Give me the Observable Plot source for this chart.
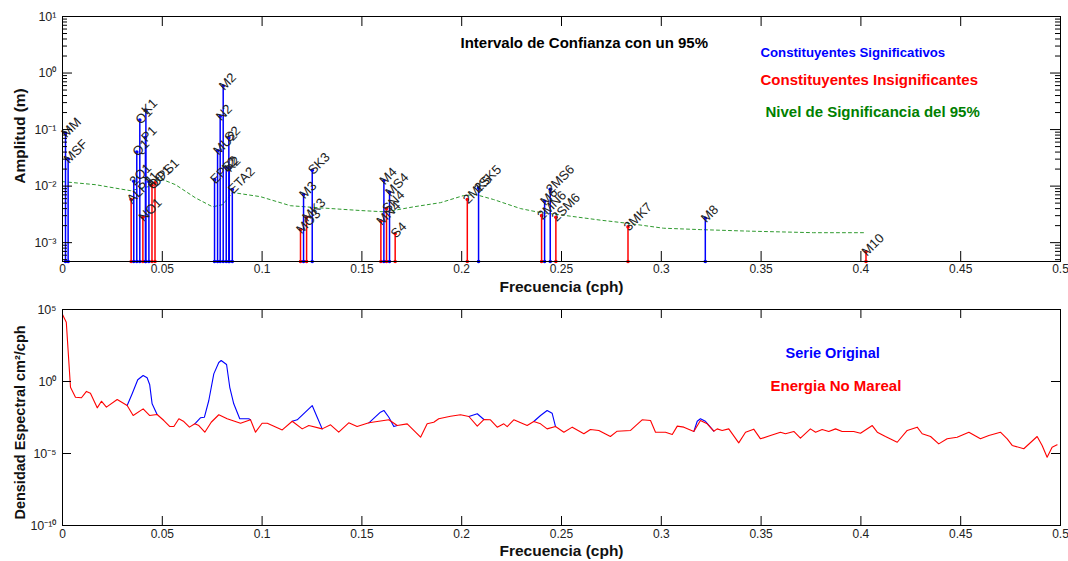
<!DOCTYPE html>
<html><head><meta charset="utf-8">
<script src="https://cdn.jsdelivr.net/npm/d3@7"></script>
<script src="https://cdn.jsdelivr.net/npm/@observablehq/plot@0.6"></script>
<style>
html,body{margin:0;padding:0;background:#fff;}
#chart{width:1068px;height:561px;position:relative;font-family:"Liberation Sans",Arial,sans-serif;}
#chart svg{display:block;background:#fff;}
</style></head><body><div id="chart"></div>
<script>
// ---- Top panel: tidal constituents (name, frequency cph, amplitude m) ----
const sigNames = ["MM","MSF","2Q1","Q1","O1","P1","K1","J1","EPS2","MU2","N2","M2","L2","S2","K2","ETA2","M3","SK3","M4","MS4","2SK5","M6","2MS6","M8"];
const sigFreq  = [0.0015122,0.0028219,0.0357064,0.0372185,0.0387307,0.0415526,0.0417807,0.0432929,0.0761773,0.0776895,0.0789992,0.0805114,0.0820236,0.0833333,0.0835615,0.0850736,0.1207671,0.1251141,0.1610228,0.1638447,0.2084474,0.2415342,0.2443561,0.3220456];
const sigAmp   = [0.086,0.030,0.0122,0.040,0.148,0.072,0.22,0.012,0.013,0.042,0.17,0.59,0.021,0.072,0.021,0.0087,0.0071,0.019,0.0126,0.0078,0.0093,0.0054,0.0088,0.0027];

const insNames = ["ALP1","NO1","OO1","UPS1","MO3","MK3","MN4","SN4","S4","2MK5","2MN6","2SM6","3MK7","M10"];
const insFreq  = [0.0343966,0.0402686,0.0448308,0.0463430,0.1192421,0.1222921,0.1595106,0.1623326,0.1666667,0.2028035,0.2400221,0.2471781,0.2833149,0.4025570];
const insAmp   = [0.0058,0.0028,0.0103,0.0114,0.0017,0.0028,0.0024,0.0040,0.00144,0.0058,0.0030,0.0028,0.0019,0.00069];

// 95% significance level (frequency, amplitude)
const sigLevelFreq = [0,0.0165,0.034,0.0431,0.0491,0.0566,0.0666,0.0752,0.0802,0.0852,0.0992,0.1142,0.1258,0.1493,0.1618,0.1759,0.1894,0.2009,0.2069,0.2159,0.2295,0.2395,0.2495,0.2695,0.2831,0.3011,0.3196,0.3432,0.3762,0.4013];
const sigLevelAmp  = [0.0120,0.0106,0.0083,0.0098,0.0135,0.0106,0.0062,0.0043,0.0047,0.0077,0.0065,0.0045,0.0042,0.0037,0.0035,0.0043,0.0051,0.0068,0.0071,0.0058,0.0040,0.0034,0.0031,0.0025,0.0022,0.0018,0.0017,0.0016,0.0015,0.0015];

const freqTicks = [0,0.05,0.1,0.15,0.2,0.25,0.3,0.35,0.4,0.45,0.5];
const ampTicks = [1e-3,1e-2,1e-1,1,10];
const ampTickLabels = ["10\u207B\u00B3","10\u207B\u00B2","10\u207B\u00B9","10\u2070","10\u00B9"];
const ampDomain = [4.64e-4, 10];

// ---- Bottom panel: spectra [frequency cph, log10 density cm^2/cph] ----
const nonTidalSpectrum = [[0,4.65],[0.0019,4.12],[0.0040,-0.40],[0.0065,-1.09],[0.0095,-1.13],[0.0120,-0.69],[0.0140,-0.81],[0.0174,-1.83],[0.0195,-1.37],[0.0220,-1.78],
[0.0274,-1.25],[0.0324,-1.67],[0.0354,-2.36],[0.0404,-1.90],[0.0436,-2.36],[0.0474,-2.29],[0.0508,-2.71],[0.0538,-3.13],[0.0558,-3.13],[0.0583,-2.59],
[0.0608,-2.78],[0.0636,-3.17],[0.0663,-2.94],[0.0683,-3.06],[0.0713,-3.52],[0.0745,-2.83],[0.0783,-2.31],[0.0825,-2.59],[0.0892,-2.90],[0.0942,-2.66],
[0.0967,-3.52],[0.1000,-2.90],[0.1026,-2.90],[0.1101,-3.36],[0.1151,-2.76],[0.1201,-3.29],[0.1234,-3.06],[0.1301,-3.29],[0.1343,-3.01],[0.1384,-3.52],
[0.1434,-2.87],[0.1476,-3.13],[0.1535,-2.87],[0.1635,-2.66],[0.1677,-3.06],[0.1727,-2.94],[0.1760,-3.40],[0.1794,-3.87],[0.1827,-2.94],[0.1860,-2.83],
[0.1885,-2.59],[0.1944,-2.41],[0.1994,-2.31],[0.2036,-2.43],[0.2078,-3.10],[0.2111,-2.64],[0.2144,-2.66],[0.2178,-3.17],[0.2211,-2.94],[0.2228,-3.13],
[0.2261,-2.66],[0.2328,-3.06],[0.2361,-2.78],[0.2395,-2.94],[0.2428,-3.29],[0.2470,-3.13],[0.2512,-3.52],[0.2554,-3.17],[0.2612,-3.63],[0.2645,-3.33],
[0.2687,-3.40],[0.2745,-3.82],[0.2779,-3.45],[0.2846,-3.40],[0.2904,-2.66],[0.2946,-2.71],[0.2971,-3.52],[0.3021,-3.52],[0.3055,-3.68],[0.3080,-3.10],
[0.3113,-3.17],[0.3163,-3.47],[0.3196,-2.71],[0.3230,-2.94],[0.3263,-3.45],[0.3280,-3.29],[0.3305,-3.40],[0.3338,-3.29],[0.3388,-4.26],[0.3422,-3.52],
[0.3463,-3.31],[0.3497,-3.98],[0.3547,-3.75],[0.3597,-3.52],[0.3622,-3.63],[0.3664,-3.47],[0.3697,-3.93],[0.3747,-3.29],[0.3773,-3.52],[0.3806,-3.33],
[0.3839,-3.47],[0.3873,-3.29],[0.3906,-3.47],[0.3964,-3.47],[0.3998,-3.59],[0.4057,-3.06],[0.4082,-3.52],[0.4123,-3.82],[0.4182,-4.22],[0.4232,-3.40],
[0.4282,-3.17],[0.4307,-3.63],[0.4349,-3.82],[0.4390,-4.33],[0.4432,-3.98],[0.4482,-3.87],[0.4541,-3.52],[0.4599,-3.98],[0.4641,-3.75],[0.4699,-3.52],
[0.4733,-3.98],[0.4758,-4.44],[0.4816,-4.67],[0.4883,-3.82],[0.4908,-4.44],[0.4933,-5.26],[0.4958,-4.56],[0.4983,-4.40]];

// Original series where it departs from the non-tidal energy: [segment, frequency, log10 density]
const originalPeaks = [
[1,0.0324,-1.67],[1,0.0349,-0.85],[1,0.0377,0.12],[1,0.0404,0.42],[1,0.0424,0.26],[1,0.0437,-0.23],[1,0.0449,-1.55],[1,0.0474,-2.29],
[2,0.0663,-2.94],[2,0.0691,-2.52],[2,0.0711,-2.48],[2,0.0733,-1.32],[2,0.0758,0.53],[2,0.0783,1.32],[2,0.0795,1.46],[2,0.0822,1.18],[2,0.0838,-0.40],[2,0.0858,-1.55],[2,0.0888,-2.59],[2,0.0933,-2.59],[2,0.0942,-2.66],
[3,0.1151,-2.76],[3,0.1176,-2.66],[3,0.1251,-1.67],[3,0.1276,-2.48],[3,0.1301,-3.29],
[4,0.1535,-2.87],[4,0.1593,-2.13],[4,0.1610,-2.01],[4,0.1635,-2.48],[4,0.1660,-3.13],[4,0.1677,-3.06],
[5,0.2036,-2.43],[5,0.2078,-2.24],[5,0.2111,-2.64],
[6,0.2361,-2.78],[6,0.2395,-2.36],[6,0.2428,-2.01],[6,0.2453,-2.20],[6,0.2470,-3.13],
[7,0.3163,-3.47],[7,0.3180,-2.76],[7,0.3196,-2.59],[7,0.3221,-2.76],[7,0.3263,-3.45]];

const densTicks = [1e-10,1e-5,1,1e5];
const densTickLabels = ["10\u207B\u00B9\u2070","10\u207B\u2075","10\u2070","10\u2075"];
const densDomain = [1e-10, 1e5];

// ---------------- build ----------------
(function(){
const FONT = '"Liberation Sans", Arial, sans-serif';
const W = 1068;
const mL = 62, mR = 8;
const plotW = W - mL - mR;

const sigData = sigNames.map((n,i)=>({name:n, f:sigFreq[i], a:sigAmp[i]}));
const insData = insNames.map((n,i)=>({name:n, f:insFreq[i], a:insAmp[i]}));
const levelData = sigLevelFreq.map((f,i)=>({f, a:sigLevelAmp[i]}));

function minorLogTicks(lo, hi){
  const out=[];
  for(let e=Math.floor(Math.log10(lo)); e<=Math.ceil(Math.log10(hi)); e++){
    for(let m=2;m<=9;m++){const v=m*Math.pow(10,e); if(v>=lo && v<=hi) out.push(v);}
  }
  return out;
}

function frameTicks(plotH, yMajor, yMinor, major, minor){
  const marks = [
    Plot.tickX(freqTicks, {x:d=>d, insetTop: plotH - major, stroke:"#000"}),
    Plot.tickX(freqTicks, {x:d=>d, insetBottom: plotH - major, stroke:"#000"}),
    Plot.tickY(yMajor, {y:d=>d, insetRight: plotW - major, stroke:"#000"}),
    Plot.tickY(yMajor, {y:d=>d, insetLeft: plotW - major, stroke:"#000"})
  ];
  if (yMinor) {
    marks.push(Plot.tickY(yMinor, {y:d=>d, insetRight: plotW - minor, stroke:"#000"}));
    marks.push(Plot.tickY(yMinor, {y:d=>d, insetLeft: plotW - minor, stroke:"#000"}));
  }
  return marks;
}

const ampLabelMap = new Map(ampTicks.map((t,i)=>[t, ampTickLabels[i]]));
const densLabelMap = new Map(densTicks.map((t,i)=>[t, densTickLabels[i]]));
const fmtFreq = d => d === 0 ? "0" : String(d);

// Top plot
const topH = 300, topMT = 16, topMB = 39;
const topPlotH = topH - topMT - topMB;
const topChart = Plot.plot({
  width: W, height: topH,
  marginLeft: mL, marginRight: mR, marginTop: topMT, marginBottom: topMB,
  style: {fontFamily: FONT, background:"#fff", overflow:"visible"},
  x: {domain:[0,0.5]},
  y: {type:"log", domain: ampDomain},
  marks: [
    Plot.line(levelData, {x:"f", y:"a", stroke:"#2f9a2f", strokeWidth:1, strokeDasharray:"3,3"}),
    Plot.ruleX(insData, {x:"f", y1:()=>ampDomain[0], y2:"a", stroke:"#ff0000", strokeWidth:1.5}),
    Plot.ruleX(sigData, {x:"f", y1:()=>ampDomain[0], y2:"a", stroke:"#0000ff", strokeWidth:1.5}),
    Plot.dot(insData, {x:"f", y:"a", r:1.8, fill:"#ff0000", stroke:null}),
    Plot.dot(sigData, {x:"f", y:"a", r:1.8, fill:"#0000ff", stroke:null}),
    Plot.dot(insData, {x:"f", y:()=>ampDomain[0], r:1.8, fill:"#ff0000", stroke:null}),
    Plot.dot(sigData, {x:"f", y:()=>ampDomain[0], r:1.8, fill:"#0000ff", stroke:null}),
    Plot.text(sigData.concat(insData), {x:"f", y:"a", text:"name", rotate:-45, textAnchor:"start", lineAnchor:"middle", dx:-2, dy:2, fontSize:13, fill:"#222"}),
    Plot.frame({stroke:"#000"}),
    ...frameTicks(topPlotH, ampTicks, minorLogTicks(ampDomain[0], ampDomain[1]), 10, 5),
    Plot.axisX({ticks: freqTicks, tickSize:0, tickPadding:3, tickFormat: fmtFreq, fontSize:12, label:null, fill:"#222"}),
    Plot.axisY({ticks: ampTicks, tickSize:0, tickPadding:6, tickFormat: d=>ampLabelMap.get(d), fontSize:12.5, label:null, fill:"#222"}),
    Plot.text(["Frecuencia (cph)"], {frameAnchor:"bottom", dy:30, textAnchor:"middle", fontSize:15.5, fontWeight:"bold", fill:"#111"}),
    Plot.text(["Amplitud (m)"], {frameAnchor:"left", dx:-42, dy:-3, rotate:-90, textAnchor:"middle", fontSize:15.5, fontWeight:"bold", fill:"#111"}),
    Plot.text(["Intervalo de Confianza con un 95%"], {frameAnchor:"top-left", dx:398, dy:21, textAnchor:"start", fontSize:15, fontWeight:"bold", fill:"#000"}),
    Plot.text(["Constituyentes Significativos"], {frameAnchor:"top-left", dx:698, dy:31, textAnchor:"start", fontSize:13.2, fontWeight:"bold", fill:"#0000ff"}),
    Plot.text(["Constituyentes Insignificantes"], {frameAnchor:"top-left", dx:698, dy:58, textAnchor:"start", fontSize:15, fontWeight:"bold", fill:"#ff0000"}),
    Plot.text(["Nivel de Significancia del 95%"], {frameAnchor:"top-left", dx:703, dy:90, textAnchor:"start", fontSize:15, fontWeight:"bold", fill:"#008000"})
  ]
});

// Bottom plot
const botH = 261, botMT = 9, botMB = 36;
const botPlotH = botH - botMT - botMB;
const redData = nonTidalSpectrum.map(([f,v])=>({f, d:Math.pow(10,v)}));
const blueData = originalPeaks.map(([s,f,v])=>({s, f, d:Math.pow(10,v)}));
const bottomChart = Plot.plot({
  width: W, height: botH,
  marginLeft: mL, marginRight: mR, marginTop: botMT, marginBottom: botMB,
  style: {fontFamily: FONT, background:"#fff", overflow:"visible"},
  x: {domain:[0,0.5]},
  y: {type:"log", domain: densDomain},
  marks: [
    Plot.line(blueData, {x:"f", y:"d", z:"s", stroke:"#0000ff", strokeWidth:1.1}),
    Plot.line(redData, {x:"f", y:"d", stroke:"#ff0000", strokeWidth:1.1}),
    Plot.frame({stroke:"#000"}),
    ...frameTicks(botPlotH, densTicks, null, 9, 0),
    Plot.axisX({ticks: freqTicks, tickSize:0, tickPadding:4, tickFormat: fmtFreq, fontSize:12, label:null, fill:"#222"}),
    Plot.axisY({ticks: densTicks, tickSize:0, tickPadding:6, tickFormat: d=>densLabelMap.get(d), fontSize:12.5, label:null, fill:"#222"}),
    Plot.text(["Frecuencia (cph)"], {frameAnchor:"bottom", dy:30, textAnchor:"middle", fontSize:15.5, fontWeight:"bold", fill:"#111"}),
    Plot.text(["Densidad Espectral cm\u00B2/cph"], {frameAnchor:"left", dx:-42, dy:5, rotate:-90, textAnchor:"middle", fontSize:14.5, fontWeight:"bold", fill:"#111"}),
    Plot.text(["Serie Original"], {frameAnchor:"top-left", dx:723, dy:38, textAnchor:"start", fontSize:14.5, fontWeight:"bold", fill:"#0000ff"}),
    Plot.text(["Energia No Mareal"], {frameAnchor:"top-left", dx:708, dy:71, textAnchor:"start", fontSize:15, fontWeight:"bold", fill:"#ff0000"})
  ]
});

const root = document.getElementById("chart");
root.appendChild(topChart);
root.appendChild(bottomChart);
})();
</script></body></html>
